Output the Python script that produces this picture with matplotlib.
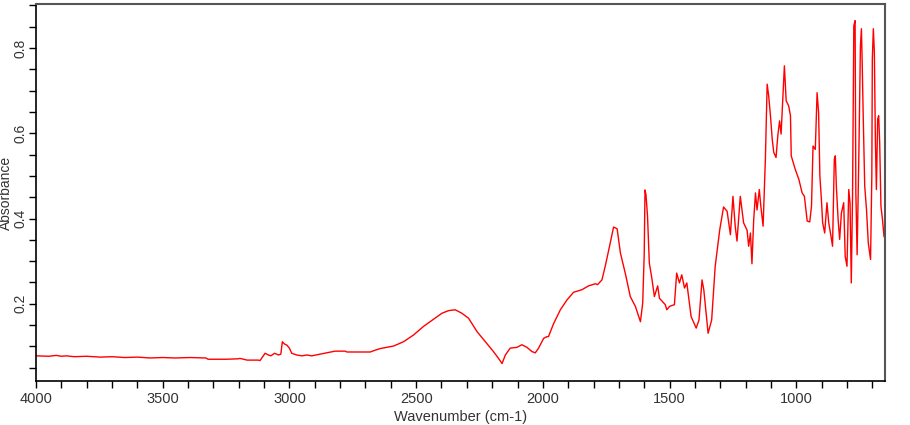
import matplotlib
matplotlib.use("Agg")
import matplotlib.pyplot as plt
from matplotlib.ticker import MultipleLocator

plt.rcParams['font.family'] = ['Liberation Sans', 'DejaVu Sans']

wavenumber = [
    4000, 3950, 3920, 3900, 3880, 3850, 3800, 3747, 3700, 3650, 3600, 3550,
    3500, 3450, 3392, 3330, 3321, 3250, 3203, 3195, 3167, 3123, 3116, 3096,
    3083, 3073, 3059, 3043, 3034, 3028, 3020, 3010, 3000, 2991, 2971, 2951,
    2931, 2912, 2879, 2846, 2820, 2780, 2773, 2681, 2668, 2642, 2616, 2589,
    2566, 2550, 2510, 2471, 2431, 2398, 2372, 2346, 2320, 2293, 2260, 2227,
    2195, 2175, 2161, 2148, 2129, 2102, 2083, 2063, 2043, 2030, 2017, 1997,
    1984, 1978, 1958, 1931, 1905, 1879, 1846, 1820, 1793, 1784, 1767, 1754,
    1734, 1721, 1707, 1694, 1675, 1655, 1635, 1615, 1606, 1600, 1597, 1593,
    1587, 1580, 1569, 1560, 1547, 1540, 1517, 1511, 1500, 1481, 1472, 1461,
    1452, 1441, 1432, 1415, 1395, 1384, 1372, 1365, 1348, 1334, 1320, 1302,
    1287, 1273, 1260, 1250, 1241, 1234, 1221, 1208, 1194, 1188, 1181, 1175,
    1168, 1161, 1155, 1146, 1140, 1131, 1122, 1115, 1109, 1102, 1095, 1089,
    1080, 1073, 1066, 1060, 1054, 1047, 1040, 1030, 1023, 1020, 1004, 990,
    977, 968, 957, 947, 940, 934, 925, 918, 912, 907, 901, 896,
    888, 879, 872, 863, 857, 850, 846, 842, 835, 829, 822, 813,
    807, 800, 793, 788, 783, 778, 773, 768, 765, 760, 753, 747,
    743, 740, 736, 730, 723, 716, 707, 702, 700, 696, 692, 688,
    684, 679, 675, 671, 666, 660, 654,
]

absorbance = [
    0.078, 0.077, 0.079, 0.077, 0.078, 0.076, 0.077, 0.075, 0.076, 0.074, 0.075, 0.073,
    0.074, 0.073, 0.074, 0.073, 0.070, 0.070, 0.071, 0.072, 0.068, 0.068, 0.067, 0.084,
    0.080, 0.078, 0.084, 0.080, 0.082, 0.111, 0.106, 0.103, 0.096, 0.084, 0.080, 0.078,
    0.080, 0.078, 0.082, 0.086, 0.089, 0.089, 0.087, 0.087, 0.090, 0.095, 0.098, 0.101,
    0.107, 0.111, 0.127, 0.147, 0.164, 0.178, 0.184, 0.186, 0.178, 0.166, 0.135, 0.111,
    0.088, 0.072, 0.060, 0.080, 0.096, 0.098, 0.104, 0.098, 0.088, 0.085, 0.096, 0.119,
    0.123, 0.123, 0.153, 0.186, 0.209, 0.227, 0.233, 0.242, 0.247, 0.245, 0.256, 0.288,
    0.343, 0.380, 0.376, 0.319, 0.272, 0.217, 0.194, 0.158, 0.202, 0.319, 0.467, 0.455,
    0.405, 0.296, 0.256, 0.217, 0.242, 0.213, 0.198, 0.186, 0.194, 0.198, 0.272, 0.249,
    0.268, 0.237, 0.249, 0.170, 0.143, 0.162, 0.256, 0.233, 0.131, 0.162, 0.288, 0.374,
    0.427, 0.417, 0.362, 0.452, 0.382, 0.347, 0.452, 0.390, 0.372, 0.335, 0.366, 0.294,
    0.398, 0.460, 0.420, 0.468, 0.429, 0.382, 0.539, 0.715, 0.688, 0.641, 0.586, 0.555,
    0.543, 0.594, 0.629, 0.598, 0.672, 0.758, 0.676, 0.664, 0.641, 0.547, 0.515, 0.492,
    0.460, 0.452, 0.394, 0.392, 0.429, 0.570, 0.562, 0.695, 0.649, 0.500, 0.445, 0.390,
    0.366, 0.437, 0.390, 0.358, 0.335, 0.539, 0.547, 0.476, 0.398, 0.351, 0.413, 0.437,
    0.311, 0.288, 0.468, 0.437, 0.249, 0.456, 0.852, 0.864, 0.460, 0.315, 0.555, 0.805,
    0.845, 0.766, 0.641, 0.476, 0.421, 0.343, 0.304, 0.500, 0.774, 0.845, 0.790, 0.586,
    0.468, 0.633, 0.641, 0.578, 0.429, 0.398, 0.358,
]

x_label = "Wavenumber (cm-1)"
y_label = "Absorbance"

fig = plt.figure(figsize=(9.1, 4.25), dpi=100)
ax = fig.add_axes([36 / 910, 1 - 381 / 425, 849 / 910, 377 / 425])

ax.plot(wavenumber, absorbance, color='#ff0000', lw=1.0)

ax.set_xlim(4000, 650)
ax.set_ylim(0.019, 0.903)

ax.xaxis.set_major_locator(MultipleLocator(500))
ax.xaxis.set_minor_locator(MultipleLocator(100))
ax.yaxis.set_major_locator(MultipleLocator(0.2))
ax.yaxis.set_minor_locator(MultipleLocator(0.05))

ax.tick_params(which='both', direction='out', length=5, width=1.0, color='black',
               labelsize=10.5, labelcolor='#333333')
ax.tick_params(axis='x', which='major', pad=3)
ax.tick_params(axis='y', which='major', pad=1, labelsize=10)
for lbl in ax.get_yticklabels():
    lbl.set_rotation(90)
    lbl.set_va('center')

for side in ['left', 'bottom']:
    ax.spines[side].set_color('black')
    ax.spines[side].set_linewidth(1.2)
for side in ['top', 'right']:
    ax.spines[side].set_color('#555555')
    ax.spines[side].set_linewidth(1.5)

ax.set_xlabel(x_label, fontsize=10.5, color='#333333', va='center')
ax.xaxis.set_label_coords(0.5, -0.096)
ax.set_ylabel(y_label, fontsize=10, color='#333333', va='center')
ax.yaxis.set_label_coords(-0.0355, 0.5)

fig.savefig("out.png", dpi=100)
